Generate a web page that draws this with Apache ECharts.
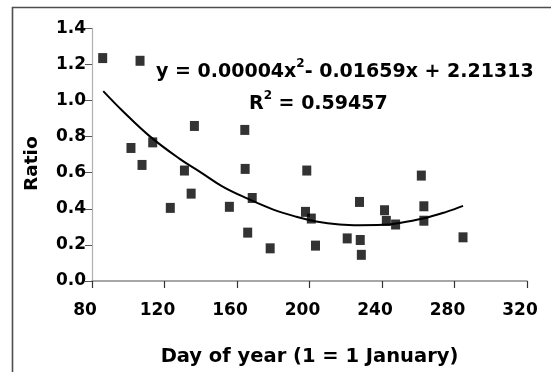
<!DOCTYPE html>
<html>
<head>
<meta charset="utf-8">
<script src="https://cdn.jsdelivr.net/npm/echarts@6/dist/echarts.min.js"></script>
<style>
html,body{margin:0;padding:0;background:#fff;}
#chart{width:551px;height:372px;}
</style>
</head>
<body>
<div id="chart"></div>
<script>
// Observed points: day of year and ratio
var days = [85.9, 106.5, 101.5, 113.5, 107.6, 131.0, 136.5, 134.7, 123.2, 155.8,
            164.3, 164.5, 168.4, 165.9, 178.3, 198.5, 197.8, 201.0, 203.3, 227.6,
            220.8, 228.0, 228.6, 241.4, 242.4, 247.5, 261.7, 263.1, 263.1, 284.7];
var ratios = [1.235, 1.220, 0.737, 0.768, 0.643, 0.612, 0.859, 0.484, 0.405, 0.411,
              0.837, 0.621, 0.460, 0.268, 0.181, 0.612, 0.383, 0.346, 0.196, 0.438,
              0.236, 0.227, 0.145, 0.392, 0.333, 0.313, 0.584, 0.414, 0.334, 0.242];
// Trend curve
var trendDays = [86.2, 96.9, 111.6, 128.2, 140.0, 152.1, 165.9, 179.7,
                 192.7, 203.7, 216.6, 227.6, 240.5, 247.9, 262.6, 275.5, 284.7];
var trendRatios = [1.052, 0.942, 0.804, 0.678, 0.602, 0.523, 0.456, 0.397,
                   0.356, 0.330, 0.313, 0.309, 0.311, 0.319, 0.346, 0.383, 0.416];
var xTicks = [80, 120, 160, 200, 240, 280, 320];
var yTicks = [0.0, 0.2, 0.4, 0.6, 0.8, 1.0, 1.2, 1.4];
var xTitle = 'Day of year (1 = 1 January)';
var yTitle = 'Ratio';
var eqMain = 'y = 0.00004x';
var eqTail = '- 0.01659x + 2.21313';
var r2Value = ' = 0.59457';

var FONT = 'DejaVu Sans';
var pts = days.map(function (d, i) { return [d, ratios[i]]; });
var trend = trendDays.map(function (d, i) { return [d, trendRatios[i]]; });

var chart = echarts.init(document.getElementById('chart'), null, {renderer: 'canvas'});
chart.setOption({
  animation: false,
  backgroundColor: '#fff',
  grid: {left: 92, right: 24, top: 28.3, bottom: 89.3, containLabel: false},
  xAxis: {
    type: 'value', min: xTicks[0], max: xTicks[xTicks.length - 1], interval: 40,
    axisLine: {show: true, onZero: false, lineStyle: {color: '#8a8a8a', width: 1.5}},
    axisTick: {show: true, inside: false, length: 7, lineStyle: {color: '#333', width: 1.2}},
    splitLine: {show: false},
    axisLabel: {color: '#000', fontFamily: FONT, fontWeight: 'bold', fontSize: 17, margin: 21,
                padding: [0, 14, 0, 0],
                formatter: function (v) { return String(v); }},
    name: xTitle, nameLocation: 'middle', nameGap: 66,
    nameTextStyle: {color: '#000', fontFamily: FONT, fontWeight: 'bold', fontSize: 19.5}
  },
  yAxis: {
    type: 'value', min: yTicks[0], max: yTicks[yTicks.length - 1], interval: 0.2,
    axisLine: {show: true, onZero: false, lineStyle: {color: '#b0b0b0', width: 1.2}},
    axisTick: {show: true, inside: false, length: 7, lineStyle: {color: '#555', width: 1}},
    splitLine: {show: false},
    axisLabel: {color: '#000', fontFamily: FONT, fontWeight: 'bold', fontSize: 17, margin: 6,
                formatter: function (v) { return v.toFixed(1); }},
    name: yTitle, nameLocation: 'middle', nameGap: 50, nameRotate: 90,
    nameTextStyle: {color: '#000', fontFamily: FONT, fontWeight: 'bold', fontSize: 18.5,
                    padding: [0, 0, 0, -18]}
  },
  series: [
    {
      type: 'line', data: trend, smooth: 0.4, showSymbol: false, symbol: 'none',
      lineStyle: {color: '#000', width: 2}, z: 2
    },
    {
      type: 'scatter', data: pts, symbol: 'rect', symbolSize: [9, 10],
      itemStyle: {color: '#000'}, z: 3
    }
  ],
  graphic: [
    {type: 'rect', shape: {x: 12.5, y: 7.5, width: 700, height: 500},
     style: {fill: 'none', stroke: '#4d4d4d', lineWidth: 1.6}, silent: true},
    {type: 'text', left: 156, top: 58,
     style: {
       text: '{m|' + eqMain + '}{s|2}{m|' + eqTail + '}',
       rich: {
         m: {fontFamily: FONT, fontWeight: 'bold', fontSize: 19, fill: '#000', verticalAlign: 'bottom', lineHeight: 24},
         s: {fontFamily: FONT, fontWeight: 'bold', fontSize: 12, fill: '#000', verticalAlign: 'top', lineHeight: 24, padding: [0, 0, 10, 0]}
       }
     }},
    {type: 'text', left: 249, top: 90,
     style: {
       text: '{m|R}{s|2}{m|' + r2Value + '}',
       rich: {
         m: {fontFamily: FONT, fontWeight: 'bold', fontSize: 19, fill: '#000', verticalAlign: 'bottom', lineHeight: 24},
         s: {fontFamily: FONT, fontWeight: 'bold', fontSize: 12, fill: '#000', verticalAlign: 'top', lineHeight: 24, padding: [0, 0, 10, 0]}
       }
     }}
  ]
});
</script>
</body>
</html>
